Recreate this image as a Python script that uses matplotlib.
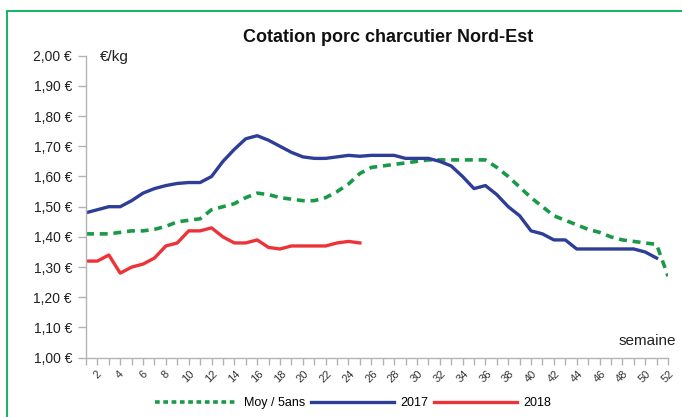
import matplotlib
matplotlib.use("Agg")
import matplotlib.pyplot as plt
from matplotlib.lines import Line2D
from matplotlib.patches import Rectangle
from matplotlib.transforms import ScaledTranslation

plt.rcParams['font.family'] = ['Liberation Sans', 'DejaVu Sans']

weeks = list(range(1, 53))

moy_5ans = [1.41, 1.41, 1.41, 1.415, 1.42, 1.42, 1.425, 1.435, 1.45, 1.455,
            1.46, 1.49, 1.50, 1.51, 1.53, 1.545, 1.54, 1.53, 1.525, 1.52,
            1.52, 1.53, 1.55, 1.575, 1.61, 1.63, 1.635, 1.64, 1.645, 1.65,
            1.655, 1.655, 1.655, 1.655, 1.655, 1.655, 1.63, 1.60, 1.565, 1.53,
            1.50, 1.47, 1.455, 1.44, 1.425, 1.415, 1.40, 1.39, 1.385, 1.38,
            1.375, 1.27]

y2017 = [1.48, 1.49, 1.50, 1.50, 1.52, 1.545, 1.56, 1.57, 1.577, 1.58,
         1.58, 1.60, 1.65, 1.69, 1.725, 1.735, 1.72, 1.70, 1.68, 1.665,
         1.66, 1.66, 1.665, 1.67, 1.667, 1.67, 1.67, 1.67, 1.66, 1.66,
         1.66, 1.65, 1.635, 1.60, 1.56, 1.57, 1.54, 1.50, 1.47, 1.42,
         1.41, 1.39, 1.39, 1.36, 1.36, 1.36, 1.36, 1.36, 1.36, 1.35,
         1.33]

y2018 = [1.32, 1.32, 1.34, 1.28, 1.30, 1.31, 1.33, 1.37, 1.38, 1.42,
         1.42, 1.43, 1.40, 1.38, 1.38, 1.39, 1.365, 1.36, 1.37, 1.37,
         1.37, 1.37, 1.38, 1.385, 1.38]

yticks = [1.00, 1.10, 1.20, 1.30, 1.40, 1.50, 1.60, 1.70, 1.80, 1.90, 2.00]
xlabels = [str(w) for w in range(2, 53, 2)]

green = '#1a9a48'
blue = '#2e3d96'
red = '#ee3338'

W, H = 682, 417
fig = plt.figure(figsize=(W / 100, H / 100), dpi=100)
fig.patch.set_facecolor('white')

# green frame
fig.patches.append(Rectangle((7 / W, -0.05), 1.1, 1 - 10.7 / H + 0.05,
                             transform=fig.transFigure, fill=False,
                             edgecolor='#00b050', linewidth=1.3))

left, right, top, bottom = 86, 668, 55.7, 357.7
ax = fig.add_axes([left / W, 1 - bottom / H, (right - left) / W, (bottom - top) / H])

ax.plot(weeks[:len(moy_5ans)], moy_5ans, color=green, lw=2.6, dashes=(2.2, 1.6),
        solid_capstyle='butt')
ax.plot(weeks[:len(y2017)], y2017, color=blue, lw=2.4, solid_joinstyle='round')
ax.plot(weeks[:len(y2018)], y2018, color=red, lw=2.4, solid_joinstyle='round')

ax.set_xlim(1, 52)
ax.set_ylim(1.0, 2.0)
ax.set_yticks(yticks)
ax.set_yticklabels([f"{v:.2f} €".replace('.', ',') for v in yticks], fontsize=10,
                   color='#222222')
ax.set_xticks(weeks)
ax.set_xticklabels([w if int(w) % 2 == 0 else '' for w in map(str, weeks)],
                   rotation=45, ha='center', fontsize=8, color='#333333')
shift = ScaledTranslation(3 / 100, 0, fig.dpi_scale_trans)
for lab in ax.get_xticklabels():
    lab.set_transform(lab.get_transform() + shift)

for s in ['top', 'right']:
    ax.spines[s].set_visible(False)
for s in ['left', 'bottom']:
    ax.spines[s].set_color('#b3b3b3')
    ax.spines[s].set_linewidth(1.0)
ax.tick_params(axis='y', direction='out', length=6, width=1.0, color='#b3b3b3', pad=4)
ax.tick_params(axis='x', direction='out', length=5, width=1.0, color='#b3b3b3', pad=3)

fig.text(388 / W, 1 - 37 / H, 'Cotation porc charcutier Nord-Est', ha='center',
         va='center', fontsize=13, fontweight='bold', color='#111111')
fig.text(100 / W, 1 - 57 / H, '€/kg', ha='left', va='center', fontsize=11,
         color='#222222')
fig.text(676 / W, 1 - 341 / H, 'semaine', ha='right', va='center', fontsize=11,
         color='#222222')

handles = [Line2D([], [], color=green, lw=2.6, dashes=(1.3, 1.0)),
           Line2D([], [], color=blue, lw=2.4),
           Line2D([], [], color=red, lw=2.4)]
fig.legend(handles, ['Moy / 5ans', '2017', '2018'], loc='center',
           bbox_to_anchor=(353 / W, 1 - 403 / H), ncol=3, frameon=False,
           fontsize=9, handlelength=6.6, handletextpad=0.55, columnspacing=0.45,
           borderaxespad=0, borderpad=0)

fig.savefig('out.png', dpi=100)
